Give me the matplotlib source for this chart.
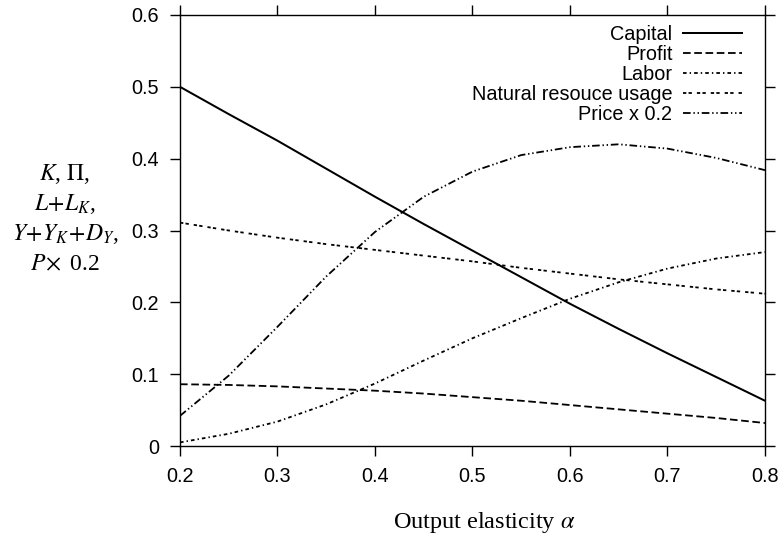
import matplotlib
matplotlib.use("Agg")
import matplotlib.pyplot as plt

alpha = [0.20, 0.25, 0.30, 0.35, 0.40, 0.45, 0.50, 0.55, 0.60, 0.65, 0.70, 0.75, 0.80]
capital = [0.500, 0.462, 0.425, 0.386, 0.347, 0.309, 0.272, 0.235, 0.198, 0.163, 0.129, 0.096, 0.063]
profit = [0.086, 0.085, 0.083, 0.080, 0.077, 0.073, 0.068, 0.063, 0.057, 0.051, 0.045, 0.039, 0.032]
labor = [0.005, 0.017, 0.034, 0.058, 0.087, 0.119, 0.150, 0.178, 0.205, 0.228, 0.247, 0.261, 0.270]
natural = [0.311, 0.300, 0.290, 0.281, 0.273, 0.265, 0.257, 0.248, 0.240, 0.232, 0.225, 0.218, 0.212]
price = [0.042, 0.098, 0.166, 0.236, 0.298, 0.347, 0.382, 0.405, 0.416, 0.420, 0.414, 0.401, 0.384]

labels = ["Capital", "Profit", "Labor", "Natural resouce usage", "Price x 0.2"]
xticks = [0.2, 0.3, 0.4, 0.5, 0.6, 0.7, 0.8]
yticks = [0, 0.1, 0.2, 0.3, 0.4, 0.5, 0.6]
ytick_labels = ["0", "0.1", "0.2", "0.3", "0.4", "0.5", "0.6"]

plt.rcParams['lines.scale_dashes'] = False
plt.rcParams['mathtext.fontset'] = 'stix'
plt.rcParams['font.family'] = ['Liberation Sans', 'DejaVu Sans']

W, H = 781, 539
fig = plt.figure(figsize=(W / 100, H / 100), dpi=100)
ax = fig.add_axes([180 / W, 1 - 446 / H, 585 / W, 431 / H])

ax.plot(alpha, capital, color='black', lw=1.45, label=labels[0])
ax.plot(alpha, profit, color='black', lw=1.3, dashes=(5.5, 2.6), label=labels[1])
ax.plot(alpha, labor, color='black', lw=1.3, dashes=(2.6, 2.2, 1.0, 2.2), label=labels[2])
ax.plot(alpha, natural, color='black', lw=1.3, dashes=(2.4, 1.6, 2.4, 3.6), label=labels[3])
ax.plot(alpha, price, color='black', lw=1.3, dashes=(5.5, 2.0, 1.0, 2.0, 1.0, 2.0), label=labels[4])

ax.set_xlim(0.2, 0.8)
ax.set_ylim(0, 0.6)
ax.set_xticks(xticks)
ax.set_xticklabels([f"{v:.1f}" for v in xticks])
ax.set_yticks(yticks)
ax.set_yticklabels(ytick_labels)
ax.tick_params(direction='out', length=7, width=1.0, pad=8, labelsize=14.3,
               top=True, right=True)
for s in ax.spines.values():
    s.set_linewidth(1.0)

leg = ax.legend(loc='upper right', bbox_to_anchor=(1 - 23 / 585, 1 - 10 / 431),
                frameon=False, markerfirst=False, fontsize=14.3,
                handlelength=2.95, handletextpad=0.55, labelspacing=0.05,
                borderpad=0, borderaxespad=0)

# y label (four stacked lines)
ylab = [r"$K$, $\Pi$,", r"$L\!+\!L_K$,", r"$Y\!+\!Y_K\!+\!D_Y$,", r"$P\!\times$ 0.2"]
for i, t in enumerate(ylab):
    fig.text(65 / W, 1 - (180 + 30 * i) / H, t, ha='center', va='baseline',
             fontsize=17, family='Liberation Serif')

fig.text(484 / W, 1 - 528 / H, r"Output elasticity $\alpha$", ha='center',
         va='baseline', fontsize=17.5, family='Liberation Serif')

fig.savefig("out.png", dpi=100)
